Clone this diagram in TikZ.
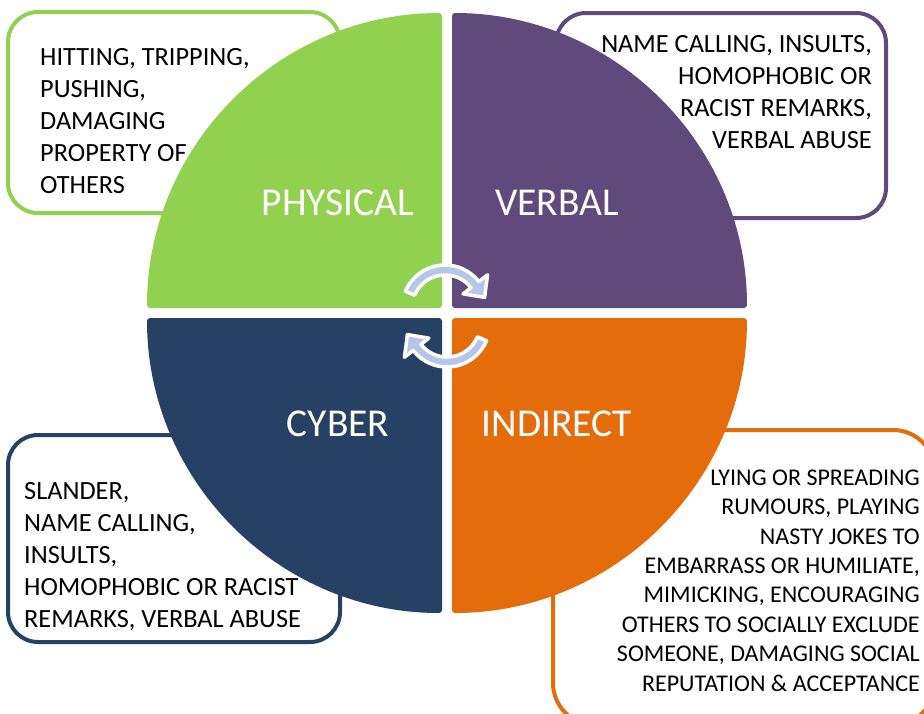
\documentclass[tikz,border=0pt]{standalone}
\usepackage{fontspec}
\setmainfont{Carlito}
\definecolor{physgreen}{HTML}{92D050}
\definecolor{verbpurple}{HTML}{604A7B}
\definecolor{cybernavy}{HTML}{264163}
\definecolor{indorange}{HTML}{E46C0A}
\definecolor{turnblue}{HTML}{B4C7E7}

\begin{document}
\begin{tikzpicture}[x=1pt, y=-1pt,
  box/.style={line width=4pt, rounded corners=30pt, fill=white},
  quarter/.style={rounded corners=3pt},
  info/.style={inner sep=0pt, font=\fontsize{26.3}{32}\selectfont},
  title/.style={inner sep=0pt, text=white, font=\fontsize{39.5}{42}\selectfont},
  turn/.style={fill=turnblue, draw=white, line width=3.5pt, line join=round}]
\useasboundingbox (0,0) rectangle (924,713);
\clip (0,0) rectangle (924,713);

% text boxes behind the circle
\draw[box, draw=physgreen]  (8,12) rectangle (340,213);
\draw[box, draw=verbpurple] (556,13) rectangle (886,218);
\draw[box, draw=cybernavy]  (8,435) rectangle (340,642);
\draw[box, draw=indorange, rounded corners=42pt] (553,430) rectangle (935,725);

\node [info, anchor=north west, align=left]  (physinfo) at (40,48)  {HITTING, TRIPPING,\\PUSHING,\\DAMAGING\\PROPERTY OF\\OTHERS};
\node [info, anchor=north east, align=right] (verbinfo) at (872,35) {NAME CALLING, INSULTS,\\HOMOPHOBIC OR\\RACIST REMARKS,\\VERBAL ABUSE};
\node [info, anchor=north west, align=left]  (cyberinfo) at (24,482) {SLANDER,\\NAME CALLING,\\INSULTS,\\HOMOPHOBIC OR RACIST\\REMARKS, VERBAL ABUSE};
\node [info, anchor=north east, align=right, font=\fontsize{24}{29.4}\selectfont] (indinfo) at (920,469.5) {LYING OR SPREADING\\RUMOURS, PLAYING\\NASTY JOKES TO\\EMBARRASS OR HUMILIATE,\\MIMICKING, ENCOURAGING\\OTHERS TO SOCIALLY EXCLUDE\\SOMEONE, DAMAGING SOCIAL\\REPUTATION \& ACCEPTANCE};

% four quarters
\fill[quarter, physgreen]  (442,308) -- (147,308) arc[start angle=180, end angle=270, radius=295] -- cycle;
\fill[quarter, verbpurple] (452,308) -- (452,13) arc[start angle=270, end angle=360, radius=295] -- cycle;
\fill[quarter, cybernavy]  (442,318) -- (442,613) arc[start angle=90, end angle=180, radius=295] -- cycle;
\fill[quarter, indorange]  (452,318) -- (747,318) arc[start angle=0, end angle=90, radius=295] -- cycle;

\node [title, anchor=base] (physical) at (338,215) {PHYSICAL};
\node [title, anchor=base] (verbal)   at (557,215) {VERBAL};
\node [title, anchor=base] (cyber)    at (338,436) {CYBER};
\node [title, anchor=base] (indirect) at (557,436) {INDIRECT};

% turning arrows in the middle
\path[turn, shift={(445,308)}] (203:43) arc[start angle=203, end angle=322, radius=43]
  -- (322:54) -- (345:41) -- (322:23) -- (322:33) arc[start angle=322, end angle=203, radius=33] -- cycle;
\path[turn, shift={(447,324)}] (23:43) arc[start angle=23, end angle=142, radius=43]
  -- (142:54) -- (165:41) -- (142:23) -- (142:33) arc[start angle=142, end angle=23, radius=33] -- cycle;
\end{tikzpicture}
\end{document}
